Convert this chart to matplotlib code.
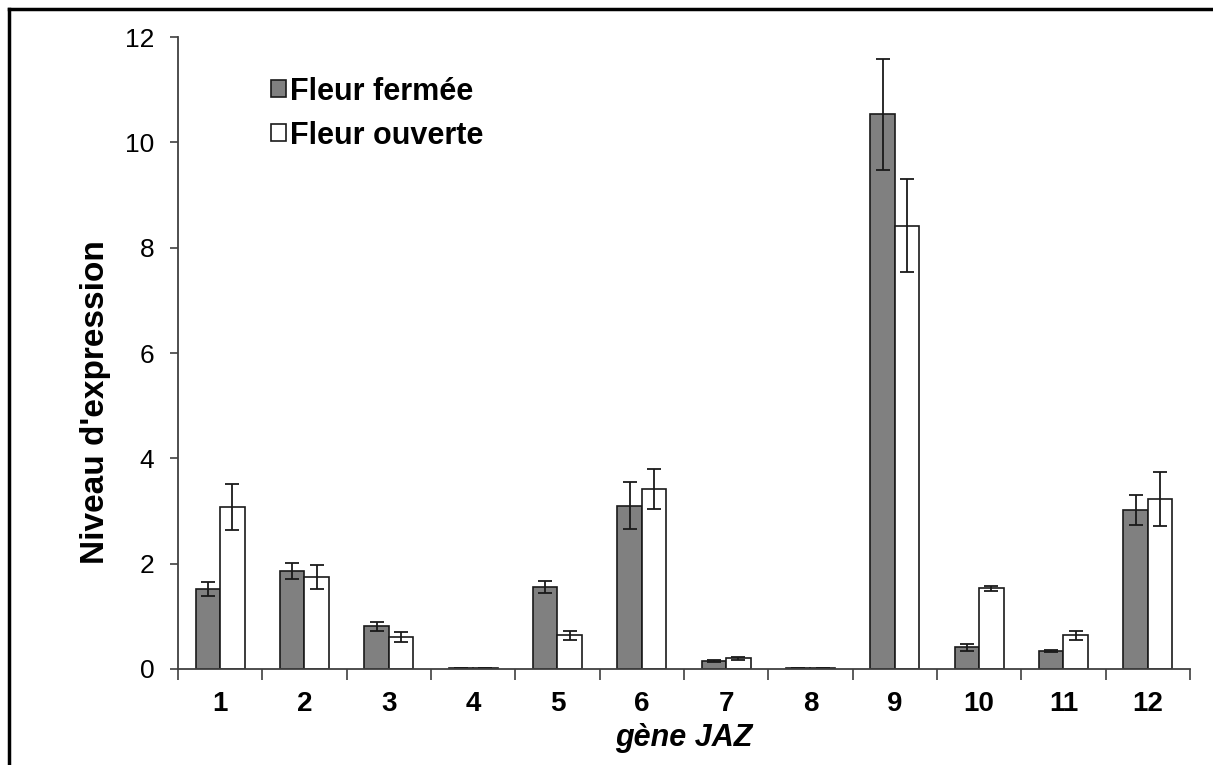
import numpy as np
import matplotlib
matplotlib.use('Agg')
import matplotlib.pyplot as plt
from matplotlib.lines import Line2D

plt.rcParams['font.family'] = ['Liberation Sans', 'DejaVu Sans']

genes = ['1', '2', '3', '4', '5', '6', '7', '8', '9', '10', '11', '12']
closed = [1.52, 1.86, 0.81, 0.02, 1.56, 3.10, 0.15, 0.02, 10.53, 0.41, 0.34, 3.02]
closed_err = [0.14, 0.15, 0.09, 0.0, 0.12, 0.45, 0.02, 0.0, 1.05, 0.07, 0.02, 0.29]
opened = [3.08, 1.74, 0.61, 0.02, 0.64, 3.42, 0.20, 0.02, 8.42, 1.53, 0.64, 3.23]
opened_err = [0.44, 0.23, 0.10, 0.0, 0.08, 0.38, 0.03, 0.0, 0.88, 0.04, 0.08, 0.52]

fig = plt.figure(figsize=(12.13, 7.65), dpi=100)
ax = fig.add_axes([0.1467, 0.1255, 0.8343, 0.8261])

x = np.arange(len(genes))
w = 0.29
ekw = dict(ecolor='#1a1a1a', elinewidth=1.3, capsize=4.7, capthick=1.3)
ax.bar(x - w / 2, closed, w, yerr=closed_err, color='#808080', edgecolor='#1a1a1a',
       linewidth=1.2, error_kw=ekw, label='Fleur fermée')
ax.bar(x + w / 2, opened, w, yerr=opened_err, color='white', edgecolor='#1a1a1a',
       linewidth=1.2, error_kw=ekw, label='Fleur ouverte')

ax.set_xlim(-0.5, len(genes) - 0.5)
ax.set_ylim(0, 12)
ax.set_yticks(range(0, 13, 2))
ax.set_xticks(np.arange(-0.5, len(genes), 1.0))
ax.set_xticklabels([])
ax.set_xticks(x, minor=True)
ax.set_xticklabels(genes, minor=True, fontsize=20, fontweight='bold')
ax.tick_params(axis='x', which='major', direction='out', length=8, width=1.2, color='#404040')
ax.tick_params(axis='x', which='minor', length=0, pad=16)
ax.tick_params(axis='y', direction='out', length=6, width=1.2, color='#404040', labelsize=19, pad=11)

for s in ['top', 'right']:
    ax.spines[s].set_visible(False)
for s in ['left', 'bottom']:
    ax.spines[s].set_color('#404040')
    ax.spines[s].set_linewidth(1.3)

ax.set_xlabel('gène JAZ', fontsize=22, fontweight='bold', style='italic', labelpad=4)
ax.set_ylabel("Niveau d'expression", fontsize=24, fontweight='bold')
ax.yaxis.set_label_coords(-0.066, 0.4225)

ax.legend(loc='upper left', bbox_to_anchor=(0.092, 0.937), frameon=False,
          prop={'size': 22, 'weight': 'bold'}, handlelength=0.48, handleheight=0.48,
          handletextpad=0.15, labelspacing=0.45, borderpad=0, borderaxespad=0)

# outer frame (top and left edges visible)
fig.add_artist(Line2D([0.0075, 1.0], [0.988, 0.988], transform=fig.transFigure, color='black', lw=2.5))
fig.add_artist(Line2D([0.0075, 0.0075], [0.0, 0.988], transform=fig.transFigure, color='black', lw=2.5))

fig.savefig('out.png', dpi=100, facecolor='white')
